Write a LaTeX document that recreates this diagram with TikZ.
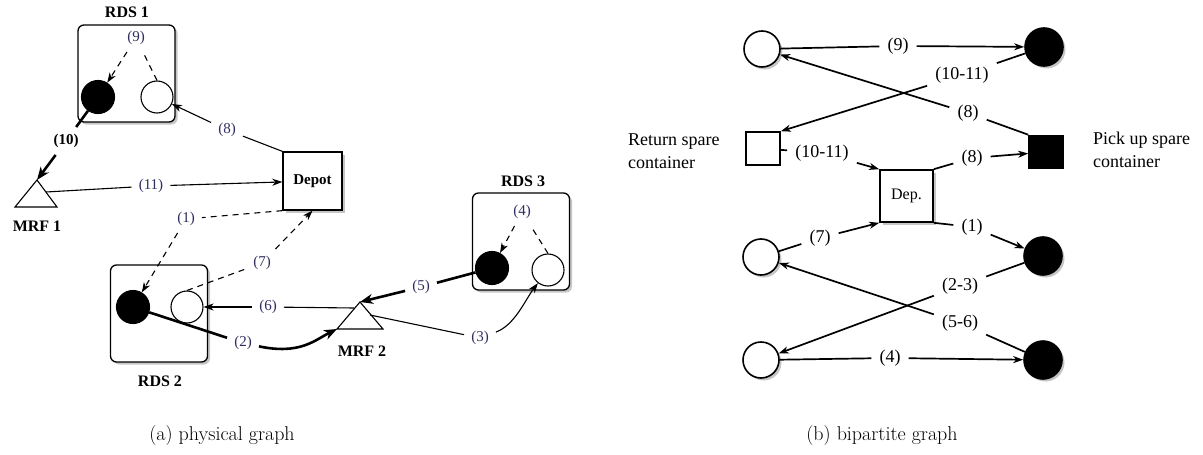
\documentclass[tikz,border=0pt]{standalone}
\usepackage{fontspec}
\newfontfamily\tnr{Liberation Serif}
\usetikzlibrary{arrows.meta,shadows}
\definecolor{labcol}{RGB}{45,45,95}
\tikzset{
  shd/.style={drop shadow={shadow xshift=2.5pt,shadow yshift=-2.5pt,opacity=0.45}},
  rds/.style={draw,fill=white,rounded corners=6pt,line width=1.3pt,
    minimum width=97pt,minimum height=97pt,shd},
  fullbin/.style={circle,draw,fill=black,line width=1.1pt,minimum size=33pt,inner sep=0pt},
  emptybin/.style={circle,draw,fill=white,line width=1.1pt,minimum size=32pt,inner sep=0pt},
  depotbox/.style={draw,fill=white,line width=1.3pt,minimum width=59pt,minimum height=58pt,
    inner sep=0pt,shd,font=\tnr\bfseries\fontsize{15}{17}\selectfont},
  ttl/.style={font=\tnr\bfseries\fontsize{16}{18}\selectfont},
  lbl/.style={font=\tnr\fontsize{15}{17}\selectfont,text=labcol,inner sep=7pt},
  blbl/.style={lbl,text=black,font=\tnr\bfseries\fontsize{15}{17}\selectfont},
  ln/.style={line width=1.1pt},
  thk/.style={line width=2.6pt},
  dsh/.style={line width=1.1pt,dash pattern=on 6pt off 5pt},
  tip/.style={-{Stealth[length=10pt,width=7pt,inset=3pt]}},
  btip/.style={-{Stealth[length=13pt,width=10pt,inset=4pt]}},
  % right panel
  rfull/.style={circle,draw,fill=black,line width=1.6pt,minimum size=38pt,inner sep=0pt,shd},
  rempty/.style={circle,draw,fill=white,line width=1.6pt,minimum size=36pt,inner sep=0pt,shd},
  rsq/.style={draw,line width=1.6pt,minimum width=34pt,minimum height=33pt,inner sep=0pt},
  rlbl/.style={font=\tnr\fontsize{18}{20}\selectfont,inner sep=8pt},
  rtxt/.style={font=\tnr\fontsize{18}{23}\selectfont,align=left,anchor=west,inner sep=0pt},
  rln/.style={line width=1.7pt},
  captxt/.style={font=\fontsize{20}{22}\selectfont}
}
\begin{document}
\begin{tikzpicture}[x=1pt,y=-1pt]
  \useasboundingbox (0,0) rectangle (1203,455);
  % (a) physical graph
  \draw
    (126.5,73.5) node[rds] (rds1){}
    (159,313.5) node[rds] (rds2){}
    (521,241.5) node[rds] (rds3){}
    (127,12) node[ttl] (t1){RDS 1}
    (160,381) node[ttl] (t2){RDS 2}
    (523,181) node[ttl] (t3){RDS 3}
    (98,97) node[fullbin] (b1){}
    (157,97) node[emptybin] (w1){}
    (133,307) node[fullbin] (b2){}
    (187,307) node[emptybin] (w2){}
    (492,268) node[fullbin] (b3){}
    (548,270) node[emptybin] (w3){}
    (312.5,181) node[depotbox] (depot){Depot}
    (37,226) node[ttl] (t4){MRF 1}
    (362,351) node[ttl] (t5){MRF 2}
    (136,38) node[lbl] (l9){(9)}
    (227,130) node[lbl] (l8){(8)}
    (66,141) node[blbl] (l10){(10)}
    (151,186) node[lbl] (l11){(11)}
    (186,219) node[lbl] (l1){(1)}
    (262,263) node[lbl] (l7){(7)}
    (268,307) node[lbl] (l6){(6)}
    (243,343) node[lbl] (l2){(2)}
    (421,287) node[lbl] (l5){(5)}
    (480,338) node[lbl] (l3){(3)}
    (522,212) node[lbl] (l4){(4)};
  \draw[ln] (37,180) coordinate (m1top) -- (57,207) -- (15,207) -- cycle;
  \draw[ln] (360,302) coordinate (m2top) -- (383,329) -- (337,329) coordinate (m2base) -- cycle;
  \coordinate (m1side) at (46,192);
  \coordinate (m2left) at (354,308);
  \coordinate (m2right) at (370,315);
  \begin{scope}[ln]
    \draw[dsh,tip] (l9) to (b1);
    \draw[dsh] (w1.north) to (l9);
    \draw (depot.north west) to (l8);
    \draw[tip] (l8) to (w1);
    \draw[thk] (b1) to (l10);
    \draw[thk,btip] (l10) to (m1top);
    \draw (m1side) to (l11);
    \draw[tip] (l11) to (depot);
    \draw[dsh] (depot.south west) to (l1);
    \draw[dsh,tip] (l1) to (b2);
    \draw[dsh] (w2.north) to (l7);
    \draw[dsh,tip] (l7) to (depot.south);
    \draw (m2left) to (l6);
    \draw[tip] (l6) to (w2);
    \draw[thk] (b2) to (l2);
    \draw[thk,btip] (l2) .. controls (300,355) and (315,340) .. (m2base);
    \draw[thk] (b3) to (l5);
    \draw[thk,btip] (l5) to (m2top);
    \draw (m2right) to (l3);
    \draw[tip] (l3) .. controls (515,325) and (525,300) .. (w3);
    \draw[dsh,tip] (l4) to (b3);
    \draw[dsh] (w3.north) to (l4);
  \end{scope}
  % (b) bipartite graph
  \draw
    (762,49) node[rempty] (wa){}
    (1044,47) node[rfull] (ba){}
    (761,257) node[rempty] (wb){}
    (1043,256) node[rfull] (bb){}
    (761,360) node[rempty] (wc){}
    (1043,360) node[rfull] (bc){}
    (763,148.5) node[rsq,fill=white] (ret){}
    (1046,152) node[rsq,fill=black] (pick){}
    (906.5,196) node[rsq,fill=white,shd,minimum width=53pt,minimum height=52pt,
      font=\tnr\fontsize{16}{18}\selectfont] (dep){Dep.}
    (628,151) node[rtxt] (rettxt){Return spare\\container}
    (1093,150) node[rtxt] (picktxt){Pick up spare\\container}
    (898,46) node[rlbl] (r9){(9)}
    (962,75) node[rlbl] (r1011a){(10-11)}
    (968,113) node[rlbl] (r8a){(8)}
    (822,153) node[rlbl] (r1011b){(10-11)}
    (972,158) node[rlbl] (r8b){(8)}
    (972,227) node[rlbl] (r1){(1)}
    (820,238) node[rlbl] (r7){(7)}
    (960,286) node[rlbl] (r23){(2-3)}
    (960,323) node[rlbl] (r56){(5-6)}
    (890,358) node[rlbl] (r4){(4)};
  \begin{scope}[rln]
    \draw (wa) to (r9);
    \draw[tip] (r9) to (ba);
    \draw (ba) to (r1011a);
    \draw[tip] (r1011a) to (ret.north east);
    \draw (pick.north west) to (r8a);
    \draw[tip] (r8a) to (wa);
    \draw (ret) to (r1011b);
    \draw[tip] (r1011b) to (dep.north west);
    \draw (dep.north east) to (r8b);
    \draw[tip] (r8b) to (pick);
    \draw (dep.south east) to (r1);
    \draw[tip] (r1) to (bb);
    \draw (wb) to (r7);
    \draw[tip] (r7) to (dep.south west);
    \draw (bb) to (r23);
    \draw[tip] (r23) to (wc);
    \draw (bc) to (r56);
    \draw[tip] (r56) to (wb);
    \draw (wc) to (r4);
    \draw[tip] (r4) to (bc);
  \end{scope}
  \node[captxt] (capa) at (222,436) {(a) physical graph};
  \node[captxt] (capb) at (882,436) {(b) bipartite graph};
\end{tikzpicture}
\end{document}
